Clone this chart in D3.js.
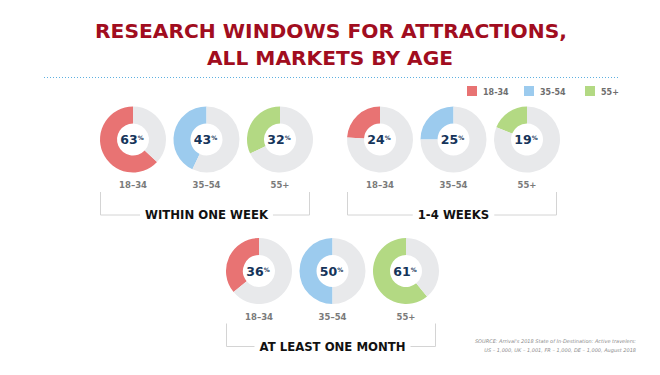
<!DOCTYPE html>
<html>
<head>
<meta charset="utf-8">
<script src="https://cdn.jsdelivr.net/npm/d3@7"></script>
<style>
  body { margin: 0; background: #fff; }
  svg { display: block; font-family: "DejaVu Sans", "Inter", sans-serif; }
</style>
</head>
<body>
<div id="chart"></div>
<script>
// chart data
var periods = ["WITHIN ONE WEEK", "1-4 WEEKS", "AT LEAST ONE MONTH"];
var ageLabels = ["18–34", "35–54", "55+"];
var legendLabels = ["18-34", "35-54", "55+"];
var withinOneWeek = [63, 43, 32];
var oneToFourWeeks = [24, 25, 19];
var atLeastOneMonth = [36, 50, 61];
var seriesByPeriod = [withinOneWeek, oneToFourWeeks, atLeastOneMonth];

var width = 660, height = 375;
var colors = ["#e87373", "#9ccbee", "#b3d983"];
var rest = "#e8e9eb";

var svg = d3.select("#chart").append("svg")
    .attr("width", width)
    .attr("height", height);

// title
svg.append("text")
    .attr("x", 331).attr("y", 38)
    .attr("text-anchor", "middle")
    .attr("fill", "#a10d20")
    .attr("font-size", 19.5).attr("font-weight", 700)
    .attr("textLength", 472).attr("lengthAdjust", "spacingAndGlyphs")
    .text("RESEARCH WINDOWS FOR ATTRACTIONS,");
svg.append("text")
    .attr("x", 330).attr("y", 65)
    .attr("text-anchor", "middle")
    .attr("fill", "#a10d20")
    .attr("font-size", 19.5).attr("font-weight", 700)
    .attr("textLength", 246).attr("lengthAdjust", "spacingAndGlyphs")
    .text("ALL MARKETS BY AGE");

// dotted rule
svg.append("line")
    .attr("x1", 44).attr("x2", 618)
    .attr("y1", 77.5).attr("y2", 77.5)
    .attr("stroke", "#5eb0e0").attr("stroke-width", 1)
    .attr("stroke-dasharray", "1,2");

// legend
var legend = svg.append("g").selectAll("g")
    .data(legendLabels)
    .enter().append("g")
    .attr("transform", function(d, i) { return "translate(" + [467, 524, 585][i] + ",86)"; });
legend.append("rect")
    .attr("width", 10).attr("height", 10)
    .attr("fill", function(d, i) { return colors[i]; });
legend.append("text")
    .attr("x", 16).attr("y", 8.5)
    .attr("fill", "#6e6e6e")
    .attr("font-size", 8).attr("font-weight", 700)
    .text(function(d) { return d; });

// group layout
var groups = [
    { cx: 206.5, cy: 139.5 },
    { cx: 453.5, cy: 139.5 },
    { cx: 332.5, cy: 271 }
];

var outerR = 33, innerR = 16;
var pie = d3.pie().sort(null).startAngle(0).endAngle(-2 * Math.PI);
var arc = d3.arc().innerRadius(innerR).outerRadius(outerR);

var x = d3.scalePoint().domain(ageLabels).range([-73.5, 73.5]);

groups.forEach(function(g, gi) {
    var vals = seriesByPeriod[gi];
    var grp = svg.append("g")
        .attr("transform", "translate(" + g.cx + "," + g.cy + ")");

    var donuts = grp.selectAll("g.donut")
        .data(ageLabels)
        .enter().append("g")
        .attr("class", "donut")
        .attr("transform", function(d) { return "translate(" + x(d) + ",0)"; });

    donuts.selectAll("path")
        .data(function(d, i) { return pie([vals[i], 100 - vals[i]]).map(function(p) { p.ci = i; return p; }); })
        .enter().append("path")
        .attr("d", arc)
        .attr("fill", function(p, j) { return j == 0 ? colors[p.ci] : rest; });

    var label = donuts.append("text")
        .attr("x", -1)
        .attr("y", 4.5)
        .attr("text-anchor", "middle")
        .attr("fill", "#15345a")
        .attr("font-weight", 700);
    label.append("tspan")
        .attr("font-size", 12.5)
        .text(function(d, i) { return vals[i]; });
    label.append("tspan")
        .attr("font-size", 6)
        .attr("dy", -4)
        .text("%");

    donuts.append("text")
        .attr("y", 48.5)
        .attr("text-anchor", "middle")
        .attr("fill", "#7a7a7a")
        .attr("font-size", 8.5).attr("font-weight", 700)
        .text(function(d) { return d; });

    // bracket
    var top = 52.5, bot = 75.5, left = -106, right = 103;
    var title = grp.append("text")
        .attr("y", bot + 4)
        .attr("text-anchor", "middle")
        .attr("fill", "#111")
        .attr("font-size", 11.7).attr("font-weight", 700)
        .text(periods[gi]);
    var tw = title.node().getComputedTextLength() / 2 + 5;

    grp.append("path")
        .attr("d", "M" + left + "," + top + "V" + bot + "H" + (-tw) +
                   "M" + tw + "," + bot + "H" + right + "V" + top)
        .attr("fill", "none")
        .attr("stroke", "#d4d4d4")
        .attr("stroke-width", 1);
});

// source note
var src = svg.append("text")
    .attr("text-anchor", "end")
    .attr("fill", "#8a8a8a")
    .attr("font-size", 5)
    .attr("font-style", "italic");
src.append("tspan").attr("x", 636).attr("y", 342.5)
    .text("SOURCE: Arrival's 2018 State of In-Destination: Active travelers:");
src.append("tspan").attr("x", 636).attr("y", 352)
    .text("US – 1,000, UK – 1,001, FR – 1,000, DE – 1,000, August 2018");
</script>
</body>
</html>
